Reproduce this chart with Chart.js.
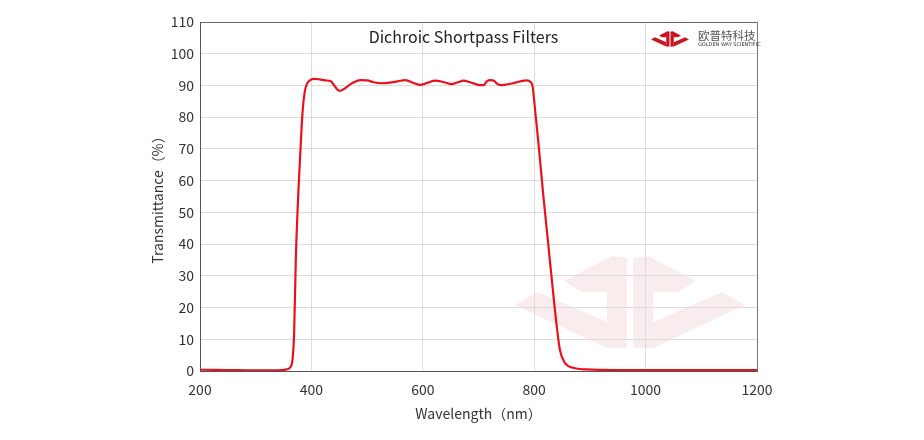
<!DOCTYPE html>
<html>
<head>
<meta charset="utf-8">
<title>Dichroic Shortpass Filters</title>
<script src="https://cdn.jsdelivr.net/npm/chart.js@4.4.1/dist/chart.umd.min.js"></script>
<style>
    html, body { margin: 0; padding: 0; background: #fff; }
    #chart { display: block; }
</style>
</head>
<body>
<canvas id="chart" width="924" height="440"></canvas>
<script>
// transmission curve
const wavelengths = [
    200, 250, 300, 340, 355, 362, 366, 369, 372, 376.5, 381, 384.5, 388, 392, 398,
    405, 415, 425, 435, 441, 446, 451, 457, 464, 475, 488, 500, 512, 525, 540,
    555, 568, 580, 595, 608, 622, 637, 652, 663, 673, 685, 700, 709, 715, 721,
    728, 733, 739, 750, 762, 775, 786, 792, 797, 801.5, 807.5, 816, 825, 834, 840.5,
    846, 855, 870, 894, 950, 1050, 1200
];
const transmittance = [
    0.4, 0.3, 0.2, 0.2, 0.5, 1.2, 3.5, 12, 35, 56, 72, 82.5, 88, 90.5, 91.7,
    92.1, 91.9, 91.6, 91.3, 90.0, 88.8, 88.3, 88.7, 89.6, 90.9, 91.7, 91.6, 91.0, 90.7, 90.9,
    91.3, 91.7, 91.0, 90.2, 90.8, 91.5, 91.1, 90.4, 91.0, 91.5, 91.0, 90.2, 90.1, 91.3, 91.7,
    91.5, 90.6, 90.1, 90.3, 90.7, 91.3, 91.6, 91.3, 89.8, 82.5, 72, 56, 40.4, 24.7, 14.1,
    6.8, 2.6, 1.0, 0.5, 0.3, 0.3, 0.3
];
const xTicks = [200, 400, 600, 800, 1000, 1200];
const yTicks = [0, 10, 20, 30, 40, 50, 60, 70, 80, 90, 100, 110];

const chartTitle = "Dichroic Shortpass Filters";
const FONT = "'Noto Sans CJK SC', 'Noto Sans', sans-serif";

// company mark (right half, mirrored for the left), units of the big watermark
function drawMark(ctx, cx, cy, s, color) {
    const half = [
        [[3, -44], [23, -44], [23, 46], [3, 46]],                 // bar
        [[3, -44], [18, -46], [66, -21], [48, -10], [23, -10]],   // short upper arm
        [[23, 20], [92, -10], [115, 3], [23, 46]]                 // long lower arm
    ];
    ctx.save();
    ctx.fillStyle = color;
    [1, -1].forEach(dir => {
        half.forEach(poly => {
            ctx.beginPath();
            poly.forEach(([px, py], i) => {
                const x = cx + dir * px * s, y = cy + py * s;
                if (i === 0) ctx.moveTo(x, y); else ctx.lineTo(x, y);
            });
            ctx.closePath();
            ctx.fill();
        });
    });
    ctx.restore();
}

const decorPlugin = {
    id: "decor",
    beforeDraw(chart) {
        const ctx = chart.ctx;
        ctx.save();
        ctx.fillStyle = "#fff";
        ctx.fillRect(0, 0, chart.width, chart.height);
        ctx.restore();
        drawMark(ctx, 630, 302, 1, "#f9ecec");
    },
    afterDraw(chart) {
        const ctx = chart.ctx;
        const area = chart.chartArea;
        ctx.save();
        ctx.fillStyle = "#222";
        ctx.font = "16px " + FONT;
        ctx.textAlign = "center";
        ctx.textBaseline = "middle";
        ctx.fillText(chartTitle, (area.left + area.right) / 2 - 15, 37);

        drawMark(ctx, 670, 39, 0.165, "#c9161e");
        ctx.textAlign = "left";
        ctx.fillStyle = "#555";
        ctx.font = "11.5px " + FONT;
        ctx.fillText("欧普特科技", 698, 36);
        ctx.font = "5px 'DejaVu Sans', sans-serif";
        ctx.fillStyle = "#333";
        ctx.fillText("GOLDEN WAY SCIENTIFIC", 698, 45);
        ctx.restore();
    }
};

const tickFont = { family: FONT, size: 14 };

new Chart(document.getElementById("chart").getContext("2d"), {
    type: "line",
    data: {
        datasets: [{
            data: wavelengths.map((w, i) => ({ x: w, y: transmittance[i] })),
            borderColor: "#e8121e",
            borderWidth: 2.2,
            pointRadius: 0,
            fill: false,
            cubicInterpolationMode: "monotone"
        }]
    },
    options: {
        responsive: false,
        animation: false,
        devicePixelRatio: 1,
        layout: { padding: { left: 145, top: 22, right: 167, bottom: 14 } },
        plugins: { legend: { display: false }, tooltip: { enabled: false } },
        scales: {
            x: {
                type: "linear",
                min: 200,
                max: 1200,
                afterBuildTicks: s => { s.ticks = xTicks.map(v => ({ value: v })); },
                afterFit: s => { s.height = 55; },
                ticks: {
                    font: tickFont, color: "#333", padding: 10, maxRotation: 0,
                    callback: v => String(v)
                },
                grid: {
                    drawTicks: false,
                    color: c => c.tick && c.tick.value === 1200 ? "#777" : "#dcdcdc"
                },
                border: { color: "#555", width: 1 },
                title: { display: true, text: "Wavelength（nm）", font: tickFont, color: "#333" }
            },
            y: {
                min: 0,
                max: 110,
                afterBuildTicks: s => { s.ticks = yTicks.map(v => ({ value: v })); },
                afterFit: s => { s.width = 55; },
                ticks: { font: tickFont, color: "#333", padding: 6, callback: v => String(v) },
                grid: {
                    drawTicks: false,
                    color: c => c.tick && c.tick.value === 110 ? "#666" : "#dcdcdc"
                },
                border: { color: "#555", width: 1 },
                title: { display: true, text: "Transmittance（%）", font: tickFont, color: "#333" }
            }
        }
    },
    plugins: [decorPlugin]
});
</script>
</body>
</html>
